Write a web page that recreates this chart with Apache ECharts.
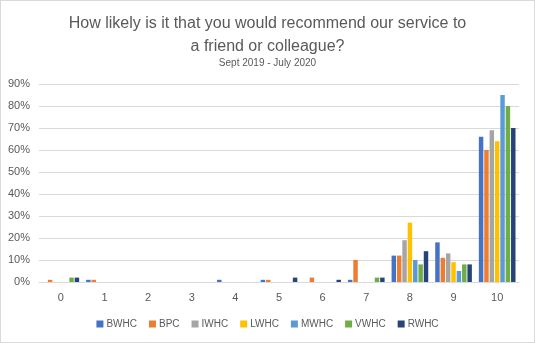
<!DOCTYPE html>
<html>
<head>
<meta charset="utf-8">
<script src="https://cdn.jsdelivr.net/npm/echarts@6/dist/echarts.min.js"></script>
<style>
  html, body { margin: 0; padding: 0; background: #fff; }
  #chart { width: 535px; height: 343px; box-sizing: border-box; border: 1px solid #D9D9D9; }
</style>
</head>
<body>
<div id="chart"></div>
<script>
// Score categories (0-10)
const categories = ['0', '1', '2', '3', '4', '5', '6', '7', '8', '9', '10'];

// Percentage of responses per score, per service
const BWHC = [0, 1, 0, 0, 1, 1, 0, 1, 12, 18, 66];
const BPC  = [1, 1, 0, 0, 0, 1, 2, 10, 12, 11, 60];
const IWHC = [0, 0, 0, 0, 0, 0, 0, 0, 19, 13, 69];
const LWHC = [0, 0, 0, 0, 0, 0, 0, 0, 27, 9, 64];
const MWHC = [0, 0, 0, 0, 0, 0, 0, 0, 10, 5, 85];
const VWHC = [2, 0, 0, 0, 0, 0, 0, 2, 8, 8, 80];
const RWHC = [2, 0, 0, 0, 0, 2, 1, 2, 14, 8, 70];

const seriesNames = ['BWHC', 'BPC', 'IWHC', 'LWHC', 'MWHC', 'VWHC', 'RWHC'];
const seriesValues = [BWHC, BPC, IWHC, LWHC, MWHC, VWHC, RWHC];
const seriesColors = ['#4472C4', '#ED7D31', '#A5A5A5', '#FFC000', '#5B9BD5', '#70AD47', '#264478'];

const FONT = 'Liberation Sans';
const chart = echarts.init(document.getElementById('chart'), null, { renderer: 'canvas' });

chart.setOption({
  animation: false,
  color: seriesColors,
  title: [
    {
      text: 'How likely is it that you would recommend our service to\na friend or colleague?',
      left: 'center',
      top: 6,
      textStyle: { fontFamily: FONT, fontSize: 16, fontWeight: 'normal', color: '#595959', lineHeight: 23 }
    },
    {
      text: 'Sept 2019 - July 2020',
      left: 'center',
      top: 52,
      textStyle: { fontFamily: FONT, fontSize: 10, fontWeight: 'normal', color: '#595959' }
    }
  ],
  legend: {
    bottom: 8,
    left: 'center',
    itemWidth: 7,
    itemHeight: 7,
    itemGap: 12,
    icon: 'rect',
    textStyle: { fontFamily: FONT, fontSize: 10, color: '#595959', padding: [0, 0, 0, -2] },
    data: seriesNames
  },
  grid: { left: 38, right: 15, top: 83, bottom: 60, containLabel: false },
  xAxis: {
    type: 'category',
    data: categories,
    axisLine: { lineStyle: { color: '#D9D9D9' } },
    axisTick: { show: false },
    axisLabel: { fontFamily: FONT, fontSize: 11, color: '#595959', margin: 10 }
  },
  yAxis: {
    type: 'value',
    min: 0,
    max: 90,
    interval: 10,
    axisLine: { show: false },
    axisTick: { show: false },
    splitLine: { lineStyle: { color: '#D9D9D9' } },
    axisLabel: { fontFamily: FONT, fontSize: 11, color: '#595959', margin: 9, formatter: '{value}%' }
  },
  series: seriesNames.map((name, i) => ({
    name: name,
    type: 'bar',
    data: seriesValues[i],
    barGap: '20%',
    barCategoryGap: '16%',
    itemStyle: { color: seriesColors[i] }
  }))
});
</script>
</body>
</html>
